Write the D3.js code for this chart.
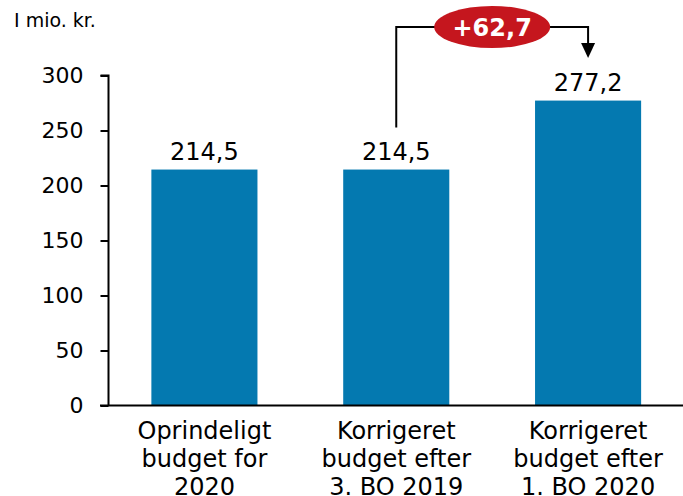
<!DOCTYPE html>
<html><head><meta charset="utf-8">
<script src="https://cdn.jsdelivr.net/npm/d3@7"></script>
<style>body{margin:0;background:#fff}svg{display:block}text{font-family:"DejaVu Sans",Verdana,sans-serif}</style>
</head><body>
<script>
const categories = [["Oprindeligt","budget for","2020"],["Korrigeret","budget efter","3. BO 2019"],["Korrigeret","budget efter","1. BO 2020"]];
const values = [214.5, 214.5, 277.2];
const valueLabels = ["214,5","214,5","277,2"];
const yTicks = [0,50,100,150,200,250,300];
const unitLabel = "I mio. kr.";
const diffLabel = "+62,7";

const W=683,H=496;
const svg=d3.select("body").append("svg").attr("width",W).attr("height",H);
const x=d3.scaleBand().domain(d3.range(values.length)).range([108.5,684]).paddingInner(0.447).paddingOuter(0.2235);
const y=d3.scaleLinear().domain([0,300]).range([405.5,75.5]);
const col="#0479b0";

svg.selectAll("rect.bar").data(values).join("rect").attr("class","bar")
 .attr("x",(d,i)=>x(i)).attr("width",x.bandwidth()).attr("y",d=>y(d)).attr("height",d=>y(0)-y(d)).attr("fill",col);

// y axis
const ya=svg.append("g").attr("transform","translate(108.5,0)").call(d3.axisLeft(y).tickValues(yTicks).tickSize(8).tickPadding(17).tickFormat(d3.format("d")));
ya.select(".domain").attr("d","M-8,75.5H0V405.5").attr("stroke","#000").attr("stroke-width",2);
ya.selectAll(".tick line").attr("stroke","#000").attr("stroke-width",2);
ya.selectAll(".tick text").attr("font-size",22).attr("fill","#000").attr("font-family","DejaVu Sans");
// x axis line
svg.append("line").attr("x1",100).attr("x2",683).attr("y1",y(0)).attr("y2",y(0)).attr("stroke","#000").attr("stroke-width",2);

// category labels
categories.forEach((lines,i)=>{
  const t=svg.append("text").attr("text-anchor","middle").attr("font-size",24).attr("fill","#000");
  lines.forEach((l,j)=>t.append("tspan").attr("x",x(i)+x.bandwidth()/2).attr("y",439+j*28).text(l));
});
// value labels
svg.selectAll("text.val").data(values).join("text").attr("class","val")
 .attr("x",(d,i)=>x(i)+x.bandwidth()/2).attr("y",d=>y(d)-10).attr("text-anchor","middle")
 .attr("font-size",24).attr("fill","#000").text((d,i)=>valueLabels[i]);

svg.append("text").attr("x",14).attr("y",27).attr("font-size",19).attr("fill","#000").text(unitLabel);

// annotation
const x1=x(1)+x.bandwidth()/2, x2=x(2)+x.bandwidth()/2, ay=27;
svg.append("path").attr("d",`M${x1},${y(values[1])-42}V${ay}H${x2}V44`).attr("fill","none").attr("stroke","#000").attr("stroke-width",2);
svg.append("path").attr("d",`M${x2-7},43L${x2+7},43L${x2},58Z`).attr("fill","#000");
svg.append("ellipse").attr("cx",(x1+x2)/2).attr("cy",ay).attr("rx",58).attr("ry",21).attr("fill","#c5161e");
svg.append("text").attr("x",(x1+x2)/2).attr("y",ay+8.5).attr("text-anchor","middle").attr("font-size",24).attr("font-weight","bold").attr("fill","#fff").text(diffLabel);
</script>
</body></html>
